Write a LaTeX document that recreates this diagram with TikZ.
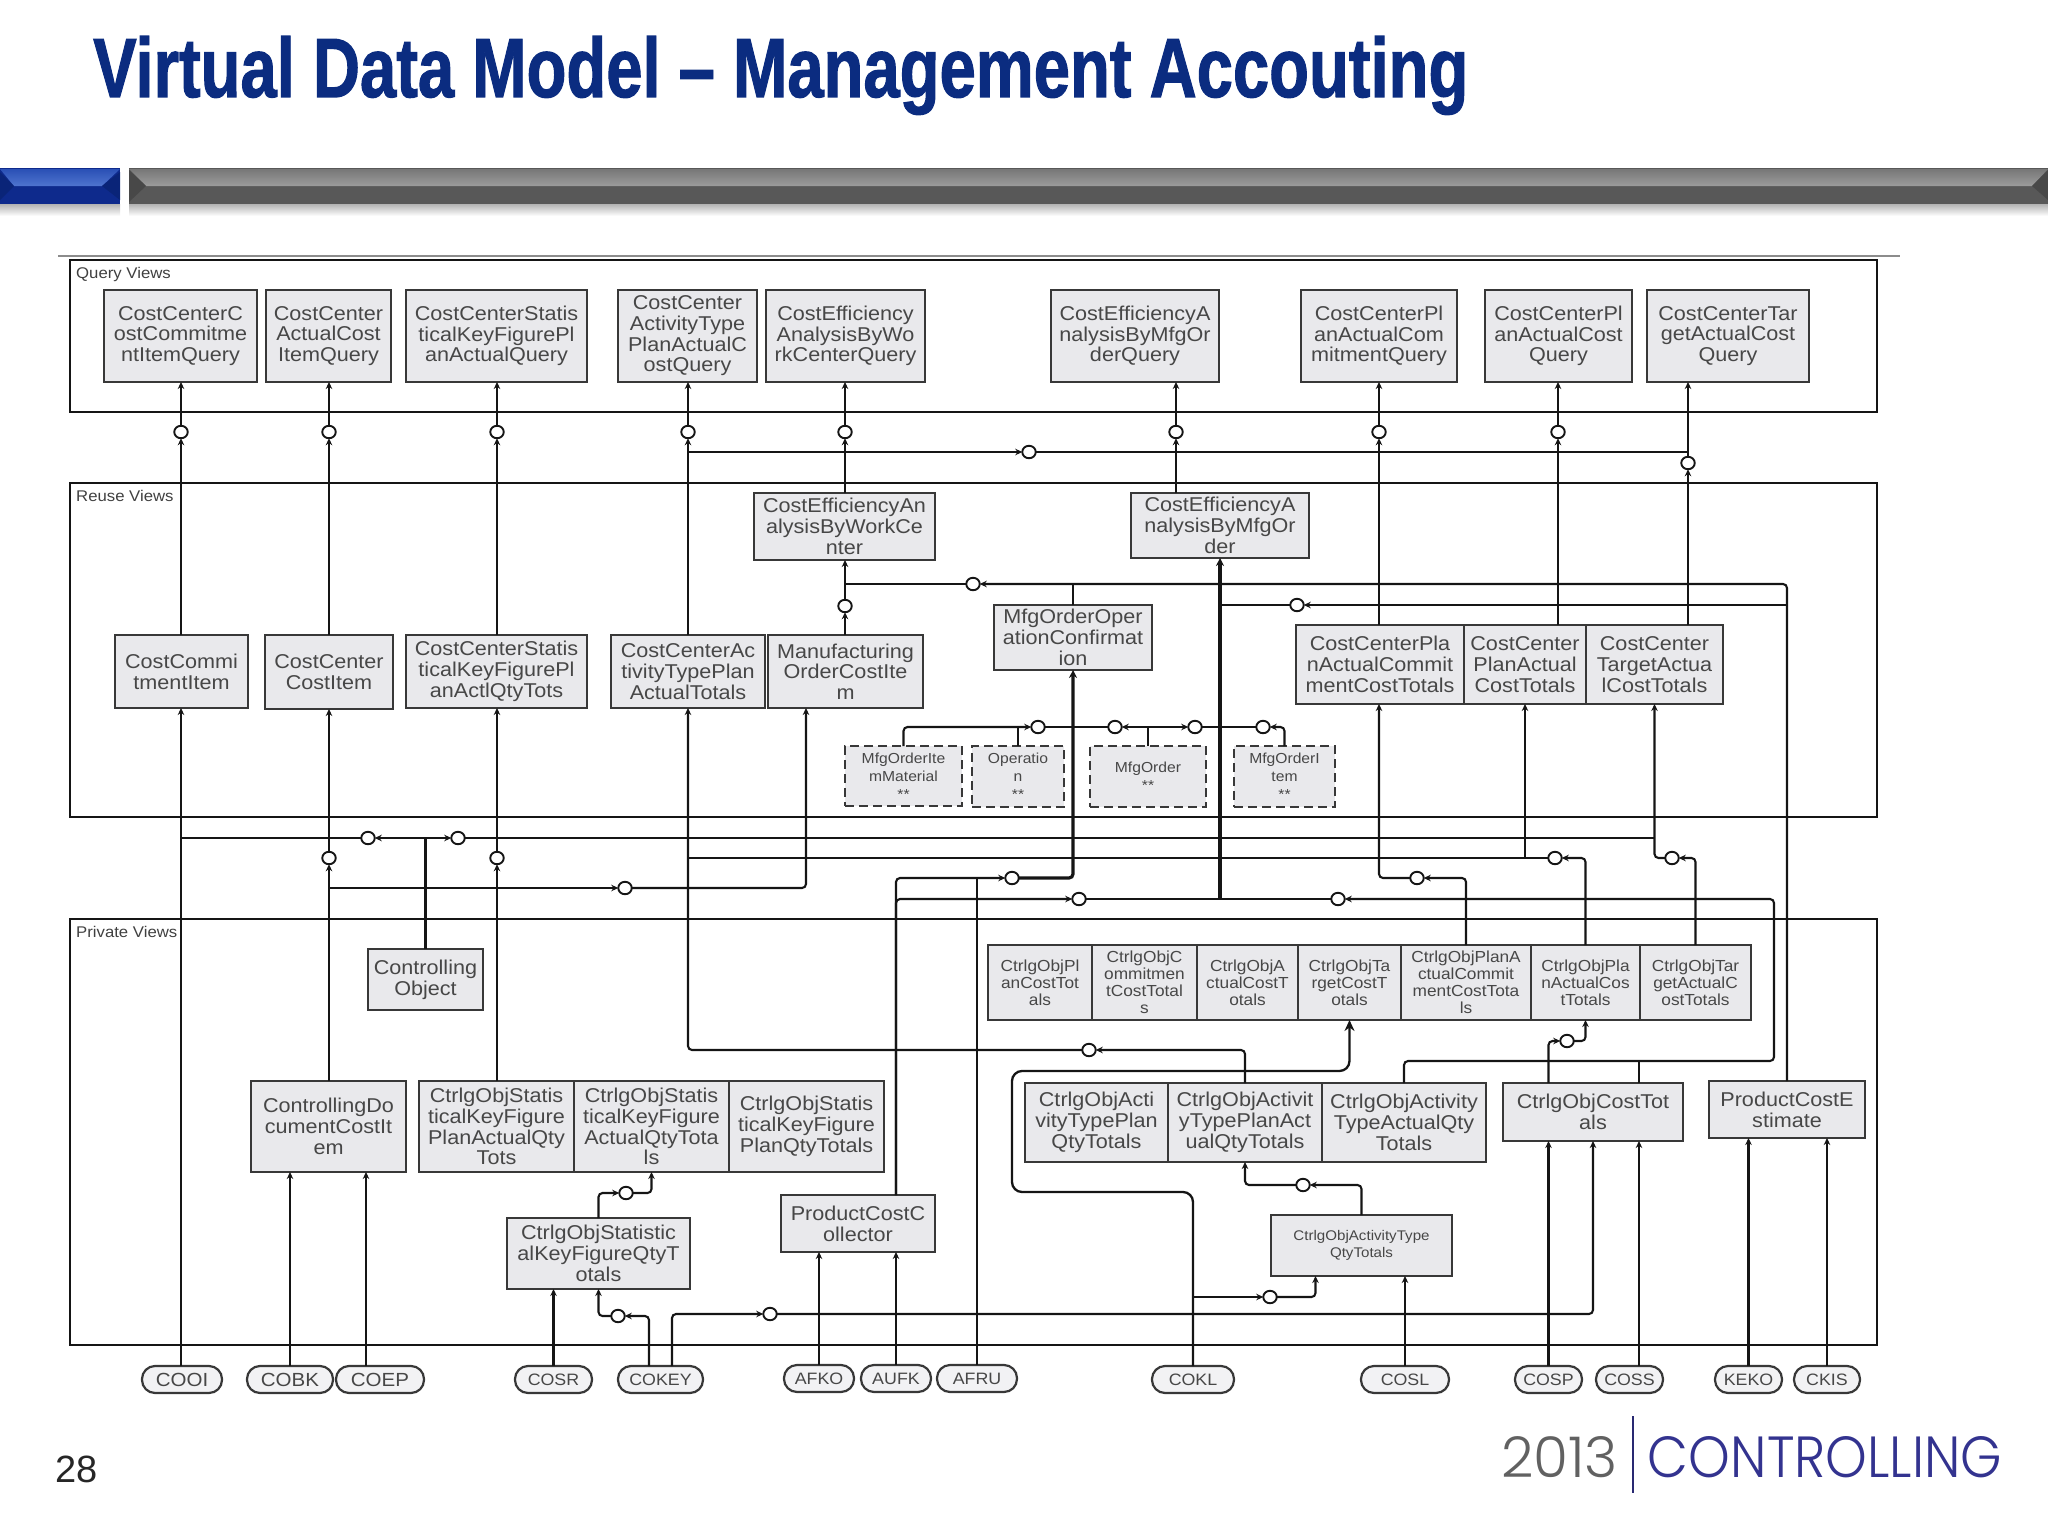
\documentclass[tikz,border=0pt]{standalone}
\usepackage{graphicx}
\usepackage{fontspec}
\usetikzlibrary{arrows.meta,shapes.geometric}
\setmainfont{Liberation Sans}[FakeStretch=1.08]
\newfontfamily\plainsans{Liberation Sans}
\newfontfamily\titlefont{Liberation Sans Bold}[FakeBold=1.5]
\newfontfamily\logofont{Poppins Light}
\definecolor{titleblue}{HTML}{0B2C80}
\definecolor{boxfill}{HTML}{E9E9EC}
\definecolor{inkline}{HTML}{151515}
\definecolor{logoblue}{HTML}{33338F}
\definecolor{bluebase}{HTML}{0E2A8C}
\definecolor{bluedark}{HTML}{0A2478}
\definecolor{bluetopa}{HTML}{2A50B5}
\definecolor{bluetopb}{HTML}{4F74CF}
\definecolor{greybase}{HTML}{585858}
\definecolor{greydark}{HTML}{484848}
\definecolor{greytopa}{HTML}{777777}
\definecolor{greytopb}{HTML}{9C9C9C}
\newcommand{\mybox}[7]{\node[#1,minimum width={(#5-#3)*1pt},minimum height={(#6-#4)*1pt}] (#2) at ({(#3+#5)/2},{(#4+#6)/2}) {#7};}
\tikzset{
  frame/.style={draw=inkline,line width=2pt,inner sep=0pt,outer sep=0pt},
  framelabel/.style={anchor=west,inner sep=0pt,text=black!75,font=\fontsize{15.5}{17}\selectfont},
  box/.style={draw=inkline!85,fill=boxfill,line width=2.2pt,inner sep=0pt,outer sep=0pt,align=center,text=black!72,font=\fontsize{20}{20.7}\selectfont},
  smallbox/.style={box,font=\fontsize{16}{17}\selectfont},
  tinybox/.style={box,font=\fontsize{14}{17}\selectfont},
  dashbox/.style={box,dash pattern=on 9pt off 5pt,font=\fontsize{14.5}{18}\selectfont},
  store/.style={box,rounded corners=13pt,fill=boxfill!60,font=\fontsize{19}{20}\selectfont},
  storesmall/.style={store,font=\fontsize{16.5}{20}\selectfont},
  ocirc/.style={ellipse,draw=inkline,fill=white,line width=1.9pt,minimum width=13.5pt,minimum height=12.5pt,inner sep=0pt,outer sep=0pt},
  conn/.style={draw=inkline,line width=2.1pt,rounded corners=4pt},
  arr/.style={conn,-{Stealth[length=7pt,width=6.5pt]}},
  arrbig/.style={conn,line width=3.2pt,-{Stealth[length=8pt,width=8pt]}},
  arrloop/.style={conn,line width=2.3pt,rounded corners=10pt,-{Stealth[length=11pt,width=10pt]}},
}
\begin{document}
\begin{tikzpicture}[x=1pt,y=-1pt]
\useasboundingbox (0,0) rectangle (2048,1536);
% title
\node[anchor=base west,inner sep=0pt,text=titleblue] (title) at (93,97) {\scalebox{0.776}[1]{\titlefont\fontsize{84}{84}\selectfont Virtual Data Model – Management Accouting}};
% header bars
\shade[top color=black!30,bottom color=white] (0,204) rectangle (120,216);
\shade[top color=black!30,bottom color=white] (129,204) rectangle (2048,216);
\fill[bluebase] (0,168) rectangle (120,204);
\shade[top color=bluetopa,bottom color=bluetopb] (0,169) -- (120,169) -- (102,186) -- (14,186) -- cycle;
\fill[bluedark] (0,172) -- (14,186) -- (0,200) -- cycle;
\fill[bluedark] (120,172) -- (102,186) -- (120,200) -- cycle;
\fill[greybase] (129,168) rectangle (2048,204);
\shade[top color=greytopa,bottom color=greytopb] (129,169) -- (2048,169) -- (2032,186) -- (146,186) -- cycle;
\fill[greydark] (129,170) -- (146,186) -- (129,202) -- cycle;
\fill[greydark] (2048,170) -- (2032,186) -- (2048,200) -- cycle;
% rule
\coordinate (ruleL) at (58,256); \coordinate (ruleR) at (1900,256);
\draw[black!45,line width=1.5pt] (ruleL) -- (ruleR);
% frames
\mybox{frame}{fQ}{70}{260}{1877}{412}{}
\mybox{frame}{fR}{70}{483}{1877}{817}{}
\mybox{frame}{fP}{70}{919}{1877}{1345}{}
\node[framelabel] (lQ) at (76,274) {Query Views};
\node[framelabel] (lR) at (76,496) {Reuse Views};
\node[framelabel] (lP) at (76,932) {Private Views};
% query boxes
\mybox{box}{qa}{104}{290}{257}{382}{CostCenterC\\ostCommitme\\ntItemQuery}
\mybox{box}{qb}{266}{290}{391}{382}{CostCenter\\ActualCost\\ItemQuery}
\mybox{box}{qc}{406}{290}{587}{382}{CostCenterStatis\\ticalKeyFigurePl\\anActualQuery}
\mybox{box}{qd}{618}{290}{757}{382}{CostCenter\\ActivityType\\PlanActualC\\ostQuery}
\mybox{box}{qe}{766}{290}{925}{382}{CostEfficiency\\AnalysisByWo\\rkCenterQuery}
\mybox{box}{qf}{1051}{290}{1219}{382}{CostEfficiencyA\\nalysisByMfgOr\\derQuery}
\mybox{box}{qg}{1301}{290}{1457}{382}{CostCenterPl\\anActualCom\\mitmentQuery}
\mybox{box}{qh}{1485}{290}{1632}{382}{CostCenterPl\\anActualCost\\Query}
\mybox{box}{qi}{1647}{290}{1809}{382}{CostCenterTar\\getActualCost\\Query}
% reuse boxes
\mybox{box}{rEffWc}{754}{493}{935}{560}{CostEfficiencyAn\\alysisByWorkCe\\nter}
\mybox{box}{rEffMo}{1131}{493}{1309}{558}{CostEfficiencyA\\nalysisByMfgOr\\der}
\mybox{box}{rComm}{115}{635}{248}{708}{CostCommi\\tmentItem}
\mybox{box}{rCostItem}{265}{635}{393}{709}{CostCenter\\CostItem}
\mybox{box}{rStat}{406}{635}{587}{708}{CostCenterStatis\\ticalKeyFigurePl\\anActlQtyTots}
\mybox{box}{rAct}{611}{635}{765}{708}{CostCenterAc\\tivityTypePlan\\ActualTotals}
\mybox{box}{rMfgItem}{768}{635}{923}{708}{Manufacturing\\OrderCostIte\\m}
\mybox{box}{rConf}{994}{605}{1152}{670}{MfgOrderOper\\ationConfirmat\\ion}
\mybox{box}{rPlanComm}{1296}{625}{1464}{704}{CostCenterPla\\nActualCommit\\mentCostTotals}
\mybox{box}{rPlanCost}{1464}{625}{1586}{704}{CostCenter\\PlanActual\\CostTotals}
\mybox{box}{rTarget}{1586}{625}{1723}{704}{CostCenter\\TargetActua\\lCostTotals}
\mybox{dashbox}{dMat}{845}{746}{962}{806}{MfgOrderIte\\mMaterial\\**}
\mybox{dashbox}{dOp}{972}{746}{1064}{807}{Operatio\\n\\**}
\mybox{dashbox}{dOrd}{1090}{746}{1206}{807}{MfgOrder\\**}
\mybox{dashbox}{dItem}{1234}{746}{1335}{807}{MfgOrderI\\tem\\**}
% private boxes
\mybox{box}{pCO}{368}{949}{483}{1010}{Controlling\\Object}
\mybox{box}{pDoc}{251}{1081}{406}{1172}{ControllingDo\\cumentCostIt\\em}
\mybox{box}{pSa}{419}{1081}{574}{1172}{CtrlgObjStatis\\ticalKeyFigure\\PlanActualQty\\Tots}
\mybox{box}{pSb}{574}{1081}{729}{1172}{CtrlgObjStatis\\ticalKeyFigure\\ActualQtyTota\\ls}
\mybox{box}{pSc}{729}{1081}{884}{1172}{CtrlgObjStatis\\ticalKeyFigure\\PlanQtyTotals}
\mybox{box}{pSq}{507}{1218}{690}{1289}{CtrlgObjStatistic\\alKeyFigureQtyT\\otals}
\mybox{box}{pColl}{781}{1195}{935}{1252}{ProductCostC\\ollector}
\mybox{smallbox}{pTa}{988}{945}{1092}{1020}{CtrlgObjPl\\anCostTot\\als}
\mybox{smallbox}{pTb}{1092}{945}{1197}{1020}{CtrlgObjC\\ommitmen\\tCostTotal\\s}
\mybox{smallbox}{pTc}{1197}{945}{1298}{1020}{CtrlgObjA\\ctualCostT\\otals}
\mybox{smallbox}{pTd}{1298}{945}{1401}{1020}{CtrlgObjTa\\rgetCostT\\otals}
\mybox{smallbox}{pTe}{1401}{945}{1531}{1020}{CtrlgObjPlanA\\ctualCommit\\mentCostTota\\ls}
\mybox{smallbox}{pTf}{1531}{945}{1640}{1020}{CtrlgObjPla\\nActualCos\\tTotals}
\mybox{smallbox}{pTg}{1640}{945}{1751}{1020}{CtrlgObjTar\\getActualC\\ostTotals}
\mybox{box}{pAa}{1025}{1083}{1168}{1162}{CtrlgObjActi\\vityTypePlan\\QtyTotals}
\mybox{box}{pAb}{1168}{1083}{1322}{1162}{CtrlgObjActivit\\yTypePlanAct\\ualQtyTotals}
\mybox{box}{pAc}{1322}{1083}{1486}{1162}{CtrlgObjActivity\\TypeActualQty\\Totals}
\mybox{box}{pCost}{1503}{1083}{1683}{1141}{CtrlgObjCostTot\\als}
\mybox{box}{pEst}{1709}{1081}{1865}{1138}{ProductCostE\\stimate}
\mybox{tinybox}{pAq}{1271}{1215}{1452}{1276}{CtrlgObjActivityType\\QtyTotals}
% source tables
\mybox{store}{sCOOI}{142}{1366}{222}{1393}{COOI}
\mybox{store}{sCOBK}{247}{1366}{333}{1393}{COBK}
\mybox{store}{sCOEP}{336}{1366}{424}{1393}{COEP}
\mybox{storesmall}{sCOSR}{515}{1366}{592}{1393}{COSR}
\mybox{storesmall}{sCOKEY}{618}{1366}{703}{1393}{COKEY}
\mybox{storesmall}{sAFKO}{784}{1365}{854}{1392}{AFKO}
\mybox{storesmall}{sAUFK}{861}{1365}{931}{1392}{AUFK}
\mybox{storesmall}{sAFRU}{937}{1365}{1017}{1392}{AFRU}
\mybox{storesmall}{sCOKL}{1152}{1366}{1234}{1393}{COKL}
\mybox{storesmall}{sCOSL}{1361}{1366}{1449}{1393}{COSL}
\mybox{storesmall}{sCOSP}{1515}{1366}{1582}{1393}{COSP}
\mybox{storesmall}{sCOSS}{1596}{1366}{1663}{1393}{COSS}
\mybox{storesmall}{sKEKO}{1715}{1366}{1782}{1393}{KEKO}
\mybox{storesmall}{sCKIS}{1794}{1366}{1860}{1393}{CKIS}
% circles
\foreach \n/\x/\y in {oa/181/432,ob/329/432,oc/497/432,od/688/432,oe/845/432,of/1176/432,og/1379/432,oh/1558/432,oi/1688/463,
  oj/1029/452,ok/973/584,ol/1297/605,om/845/606,
  on/1038/727,oo/1115/727,op/1195/727,oq/1263/727,
  ar/368/838,as/458/838,at/329/858,au/497/858,av/625/888,aw/1012/878,ax/1079/899,ay/1338/899,az/1417/878,ba/1555/858,bb/1672/858,
  bc/1089/1050,bd/1567/1041,be/1303/1185,bf/626/1193,bg/1270/1297,bh/770/1314,bi/618/1316}
  {\node[ocirc] (\n) at (\x,\y) {};}
% helper points
\coordinate (jL) at (688,452); \coordinate (jR) at (1688,452);
\coordinate (jX) at (1654,838);
\coordinate (xA) at (806,888);
\coordinate (cR) at (1774,1061);
\coordinate (xS) at (1639,1061);
\coordinate (xE) at (366,1300);
\coordinate (kA) at (1012,1192); \coordinate (kB) at (1012,1071);
\coordinate (xQ) at (1315.5,1297);
\coordinate (xK) at (672,1314);
\coordinate (xL) at (649,1316);
% query-level connectors
\draw[arr] (rComm.north -| oa) -- (oa); \draw[arr] (oa) -- (qa.south -| oa);
\draw[arr] (rCostItem.north -| ob) -- (ob); \draw[arr] (ob) -- (qb.south -| ob);
\draw[arr] (rStat.north -| oc) -- (oc); \draw[arr] (oc) -- (qc.south -| oc);
\draw[arr] (rAct.north -| od) -- (od); \draw[arr] (od) -- (qd.south -| od);
\draw[arr] (rEffWc.north -| oe) -- (oe); \draw[arr] (oe) -- (qe.south -| oe);
\draw[arr] (rEffMo.north -| of) -- (of); \draw[arr] (of) -- (qf.south -| of);
\draw[arr] (rPlanComm.north -| og) -- (og); \draw[arr] (og) -- (qg.south -| og);
\draw[arr] (rPlanCost.north -| oh) -- (oh); \draw[arr] (oh) -- (qh.south -| oh);
\draw[arr] (rTarget.north -| oi) -- (oi); \draw[arr] (oi) -- (qi.south -| oi);
\draw[arr] (jL) -- (oj); \draw[conn] (oj) -- (jR);
% reuse-level connectors
\draw[arr] (rMfgItem.north -| om) -- (om); \draw[arr] (om) -- (rEffWc.south -| om);
\draw[arr] (pEst.north) -- (pEst.north |- ok) -- (ok); \draw[conn] (ok) -- (ok -| om);
\draw[conn] (rConf.north) -- (rConf.north |- ok);
\draw[arr] (pEst.north |- ol) -- (ol); \draw[conn] (ol) -- (rEffMo.south |- ol);
\draw[arr] (dMat.north) |- (on);
\draw[conn] (dOp.north) -- (dOp.north |- on);
\draw[conn] (on) -- (oo);
\draw[conn] (dOrd.north) -- (dOrd.north |- oo);
\draw[arr] (dOrd.north |- oo) -- (oo);
\draw[arr] (dOrd.north |- op) -- (op);
\draw[conn] (op) -- (oq);
\draw[arr] (dItem.north) |- (oq);
% private to reuse
\draw[arr] (sCOOI.north -| oa) -- (rComm.south -| oa);
\draw[conn] (ar) -- (ar -| oa);
\draw[conn] (pCO.north) -- (pCO.north |- ar);
\draw[arr] (pCO.north |- ar) -- (ar);
\draw[arr] (pCO.north |- as) -- (as);
\draw[conn] (as) -- (jX);
\draw[arr] (pTg.north) |- (bb);
\draw[arr] (bb) -| (rTarget.south);
\draw[arr] (pDoc.north -| at) -- (at); \draw[arr] (at) -- (rCostItem.south -| at);
\draw[arr] (pSa.north -| au) -- (au); \draw[arr] (au) -- (rStat.south -| au);
\draw[arr] (at |- av) -- (av);
\draw[arr] (av) -- (xA) -- (rMfgItem.south -| xA);
\draw[arr] (pAb.north) |- (bc);
\draw[arr] (bc) -| (rAct.south -| od);
\draw[arr] (pTf.north) |- (ba);
\draw[conn] (ba) -- (ba -| od);
\draw[arr] (rPlanCost.south |- ba) -- (rPlanCost.south);
\draw[arr] (pTe.north) |- (az);
\draw[arr] (az) -| (rPlanComm.south -| og);
\draw[arr] (pColl.north -| sAUFK) |- (aw);
\draw[conn] (sAFRU.north) -- (sAFRU |- aw);
\draw[arrbig] (aw) -| (rConf.south);
\draw[arr] (pColl.north -| sAUFK) |- (ax);
\draw[conn] (ax) -- (ay);
\draw[arrbig] (rEffMo.south |- ax) -- (rEffMo.south);
\draw[arr] (pAc.north) -- (pAc.north |- cR) -- (cR) -- (cR |- ay) -- (ay);
\draw[conn] (pCost.north -| xS) -- (xS);
% private level
\draw[arrloop] (sCOKL.north) -- (sCOKL.north |- kA) -- (kA) -- (kB) -- (pTd.south |- kB) -- (pTd.south);
\draw[arr] (sCOKL.north |- bg) -- (bg);
\draw[arr] (bg) -- (xQ) -- (pAq.south -| xQ);
\draw[arr] (sCOKEY.north -| xK) -- (xK) -- (bh);
\draw[arr] (bh) -| (pCost.south);
\draw[arr] (sCOKEY.north -| xL) -- (xL) -- (bi);
\draw[arr] (bi) -| (pSq.south);
\draw[arr] (pSq.north) |- (bf);
\draw[arr] (bf) -| (pSb.south);
\draw[arr] (pAq.north) |- (be);
\draw[arr] (be) -| (pAb.south);
\draw[arr] (pCost.north -| sCOSP) |- (bd);
\draw[arr] (bd) -| (pTf.south);
\draw[arr] (sCOSP.north) -- (pCost.south -| sCOSP);
\draw[arr] (sCOSS.north -| xS) -- (pCost.south -| xS);
\draw[arr] (sKEKO.north) -- (pEst.south -| sKEKO);
\draw[arr] (sCKIS.north) -- (pEst.south -| sCKIS);
\draw[arr] (sCOSL.north) -- (pAq.south -| sCOSL);
\draw[arr] (sAFKO.north) -- (pColl.south -| sAFKO);
\draw[arr] (sAUFK.north) -- (pColl.south -| sAUFK);
\draw[arr] (sCOSR.north) -- (pSq.south -| sCOSR);
\draw[arr] (sCOBK.north) -- (pDoc.south -| sCOBK);
\draw[arr] (sCOEP.north -| xE) -- (pDoc.south -| xE);
% page number and logo
\node[anchor=center,inner sep=0pt,text=black!85] (pageno) at (77,1469) {\plainsans\fontsize{38}{40}\selectfont 28};
\node[inner sep=0pt,text=black!62] (logoyear) at (1559.5,1457.5) {\resizebox{117pt}{41pt}{\logofont 2013}};
\node[inner sep=0pt,text=logoblue] (logoword) at (1825,1457.5) {\resizebox{354pt}{41pt}{\logofont CONTROLLING}};
\coordinate (barT) at (1633,1416); \coordinate (barB) at (1633,1493);
\draw[logoblue!80!black,line width=2.2pt] (barT) -- (barB);
\end{tikzpicture}
\end{document}
